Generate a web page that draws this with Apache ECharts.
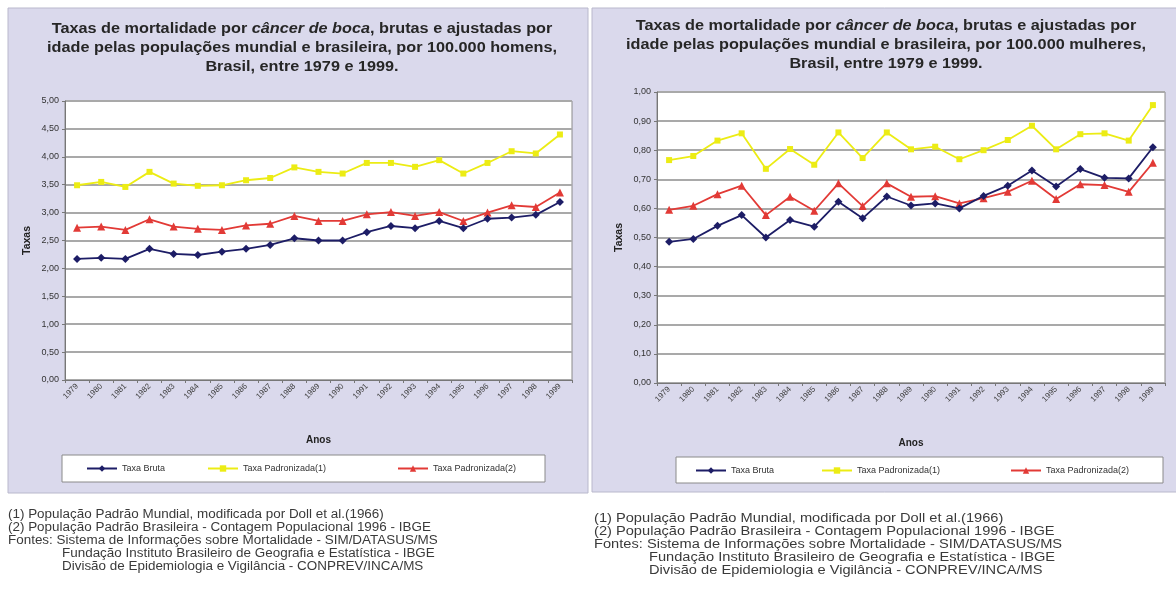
<!DOCTYPE html>
<html lang="pt-BR">
<head>
<meta charset="utf-8">
<title>Taxas de mortalidade por câncer de boca</title>
<script src="https://cdn.jsdelivr.net/npm/echarts@6/dist/echarts.min.js"></script>
<style>
  html, body { margin: 0; padding: 0; background: #ffffff; }
  #chart { width: 1176px; height: 593px; }
</style>
</head>
<body>
<div id="chart"></div>
<script>
// Years on the category axis
const years = ['1979','1980','1981','1982','1983','1984','1985','1986','1987','1988',
               '1989','1990','1991','1992','1993','1994','1995','1996','1997','1998','1999'];

// Men, per 100.000
const menBruta = [2.17, 2.19, 2.17, 2.35, 2.26, 2.24, 2.30, 2.35, 2.42, 2.54, 2.50,
                  2.50, 2.65, 2.76, 2.72, 2.85, 2.72, 2.89, 2.91, 2.96, 3.19];
const menPad1  = [3.49, 3.55, 3.46, 3.73, 3.52, 3.48, 3.49, 3.58, 3.62, 3.81, 3.73,
                  3.70, 3.89, 3.89, 3.82, 3.94, 3.70, 3.89, 4.10, 4.06, 4.40];
const menPad2  = [2.73, 2.75, 2.69, 2.88, 2.75, 2.71, 2.69, 2.77, 2.80, 2.94, 2.85,
                  2.85, 2.97, 3.01, 2.94, 3.01, 2.85, 3.00, 3.13, 3.10, 3.36];

// Women, per 100.000
const womenBruta = [0.485, 0.495, 0.540, 0.577, 0.500, 0.560, 0.537, 0.623, 0.566, 0.641, 0.610,
                    0.617, 0.600, 0.643, 0.678, 0.730, 0.675, 0.735, 0.705, 0.703, 0.810];
const womenPad1  = [0.766, 0.780, 0.833, 0.858, 0.736, 0.804, 0.750, 0.861, 0.773, 0.861, 0.803,
                    0.812, 0.769, 0.800, 0.835, 0.884, 0.803, 0.855, 0.858, 0.833, 0.955];
const womenPad2  = [0.595, 0.609, 0.649, 0.678, 0.577, 0.640, 0.592, 0.686, 0.608, 0.686, 0.640,
                    0.642, 0.617, 0.635, 0.657, 0.695, 0.632, 0.683, 0.680, 0.657, 0.757];

// Value axis ranges (tick labels are written with a decimal comma)
const menAxis   = { min: 0, max: 5, step: 0.5 };
const womenAxis = { min: 0, max: 1, step: 0.1 };

// Series names and legend labels
const seriesNames = ['Taxa Bruta', 'Taxa Padronizada(1)', 'Taxa Padronizada(2)'];

// Titles
const titleMen = [
  'Taxas de mortalidade por {r|câncer de boca}, brutas e ajustadas por',
  'idade pelas populações mundial e brasileira, por 100.000 homens,',
  'Brasil, entre 1979 e 1999.'
];
const titleWomen = [
  'Taxas de mortalidade por {r|câncer de boca}, brutas e ajustadas por',
  'idade pelas populações mundial e brasileira, por 100.000 mulheres,',
  'Brasil, entre 1979 e 1999.'
];

// Notes printed under each chart
const notes = [
  '(1) População Padrão Mundial, modificada por Doll et al.(1966)',
  '(2) População Padrão Brasileira - Contagem Populacional 1996 - IBGE',
  'Fontes: Sistema de Informações sobre Mortalidade - SIM/DATASUS/MS',
  'Fundação Instituto Brasileiro de Geografia e Estatística - IBGE',
  'Divisão de Epidemiologia e Vigilância - CONPREV/INCA/MS'
];

const FONT = '"Liberation Sans", Arial, sans-serif';
const LAVENDER = '#dad9ec';
const COLORS = ['#1d1d66', '#ecec14', '#e23a36'];
const SYMBOLS = ['diamond', 'rect', 'triangle'];
const SYMBOL_SIZES = [8, 6, 8];

const chart = echarts.init(document.getElementById('chart'), null, { renderer: 'canvas' });

const fmtComma = v => v.toFixed(2).replace('.', ',');

function xAxisFor(gridIndex) {
  return {
    type: 'category',
    gridIndex,
    data: years,
    boundaryGap: true,
    name: 'Anos',
    nameLocation: 'middle',
    nameGap: 55,
    nameTextStyle: { fontFamily: FONT, fontSize: 10, fontWeight: 'bold', color: '#222' },
    axisLine: { lineStyle: { color: '#777', width: 1 } },
    axisTick: { show: true, length: 3, alignWithLabel: false, interval: 0, lineStyle: { color: '#777' } },
    axisLabel: { interval: 0, rotate: 45, margin: 5, fontFamily: FONT, fontSize: 8, color: '#444' },
    splitLine: { show: false }
  };
}

function yAxisFor(gridIndex, ax) {
  return {
    type: 'value',
    gridIndex,
    min: ax.min,
    max: ax.max,
    interval: ax.step,
    name: 'Taxas',
    nameLocation: 'middle',
    nameRotate: 90,
    nameGap: 32,
    nameTextStyle: { fontFamily: FONT, fontSize: 10.5, fontWeight: 'bold', color: '#222' },
    axisLine: { show: true, lineStyle: { color: '#777', width: 1 } },
    axisTick: { show: true, length: 3, lineStyle: { color: '#777' } },
    axisLabel: { formatter: fmtComma, margin: 6, fontFamily: FONT, fontSize: 9, color: '#333' },
    splitLine: { show: true, lineStyle: { color: '#a9a9a9', width: 2 } }
  };
}

function lineSeries(i, idx, data) {
  return {
    type: 'line',
    name: seriesNames[i],
    xAxisIndex: idx,
    yAxisIndex: idx,
    data,
    symbol: SYMBOLS[i],
    symbolSize: SYMBOL_SIZES[i],
    showAllSymbol: true,
    lineStyle: { color: COLORS[i], width: 1.8 },
    itemStyle: { color: COLORS[i] },
    z: 3 + (i === 0 ? 1 : 0)
  };
}

// Centered, slightly widened bold title lines
function titleLines(lines, cx, y0, gap) {
  return lines.map((t, k) => ({
    type: 'text',
    x: cx,
    y: y0 + k * gap,
    scaleX: 1.16,
    z: 5,
    style: {
      text: t,
      align: 'center',
      verticalAlign: 'middle',
      fontFamily: FONT,
      fontSize: 14,
      fontWeight: 'bold',
      fill: '#262626',
      rich: {
        r: { fontFamily: FONT, fontSize: 14, fontWeight: 'bold', fontStyle: 'italic', color: '#e6503a' }
      }
    }
  }));
}

function noteLines(x, indentX, y0, gap, size, sx) {
  return notes.map((t, k) => ({
    type: 'text',
    x: k >= 3 ? indentX : x,
    y: y0 + k * gap,
    scaleX: sx,
    z: 5,
    style: {
      text: t,
      align: 'left',
      verticalAlign: 'middle',
      fontFamily: FONT,
      fontSize: size,
      fill: '#3a3a3a'
    }
  }));
}

function legendItem(nameIdx, left, top) {
  return {
    data: [seriesNames[nameIdx]],
    left,
    top,
    orient: 'horizontal',
    itemWidth: 30,
    itemHeight: 8,
    itemGap: 4,
    padding: 0,
    selectedMode: false,
    textStyle: { fontFamily: FONT, fontSize: 9, color: '#333' }
  };
}

const option = {
  animation: false,
  backgroundColor: '#ffffff',
  grid: [
    { left: 65, right: 1176 - 572, top: 101, bottom: 593 - 380, show: true,
      backgroundColor: '#ffffff', borderColor: '#8a8a8a', borderWidth: 1 },
    { left: 657, right: 1176 - 1165, top: 92, bottom: 593 - 383, show: true,
      backgroundColor: '#ffffff', borderColor: '#8a8a8a', borderWidth: 1 }
  ],
  xAxis: [xAxisFor(0), xAxisFor(1)],
  yAxis: [yAxisFor(0, menAxis), yAxisFor(1, womenAxis)],
  legend: [
    legendItem(0, 86, 464),
    legendItem(1, 207, 464),
    legendItem(2, 397, 464),
    legendItem(0, 695, 466),
    legendItem(1, 821, 466),
    legendItem(2, 1010, 466)
  ],
  series: [
    lineSeries(1, 0, menPad1),
    lineSeries(2, 0, menPad2),
    lineSeries(0, 0, menBruta),
    lineSeries(1, 1, womenPad1),
    lineSeries(2, 1, womenPad2),
    lineSeries(0, 1, womenBruta)
  ],
  graphic: [
    // panel backgrounds
    { type: 'rect', z: -1, shape: { x: 8, y: 8, width: 580, height: 485 },
      style: { fill: LAVENDER, stroke: '#b9b8cc', lineWidth: 1 } },
    { type: 'rect', z: -1, shape: { x: 592, y: 8, width: 590, height: 484 },
      style: { fill: LAVENDER, stroke: '#b9b8cc', lineWidth: 1 } },
    // legend boxes
    { type: 'rect', z: 1, shape: { x: 62, y: 455, width: 483, height: 27 },
      style: { fill: '#ffffff', stroke: '#8a8a8a', lineWidth: 1 } },
    { type: 'rect', z: 1, shape: { x: 676, y: 457, width: 487, height: 26 },
      style: { fill: '#ffffff', stroke: '#8a8a8a', lineWidth: 1 } },
    ...titleLines(titleMen, 302, 29, 19),
    ...titleLines(titleWomen, 886, 26, 19),
    ...noteLines(8, 62, 515, 13, 12, 1.12),
    ...noteLines(594, 649, 519, 13, 12, 1.22)
  ]
};

chart.setOption(option);
</script>
</body>
</html>
